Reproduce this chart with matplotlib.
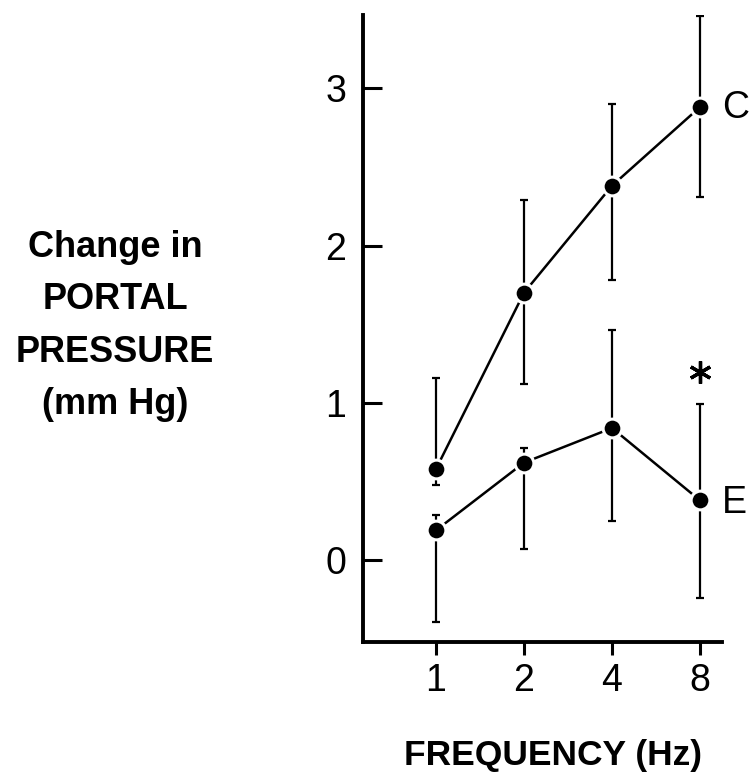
import matplotlib
matplotlib.use('Agg')
from matplotlib import pyplot as plt

# data
freq_labels = ['1', '2', '4', '8']
c_mean = [0.58, 1.70, 2.38, 2.88]
c_err_low = [0.10, 0.58, 0.60, 0.57]
c_err_high = [0.58, 0.59, 0.52, 0.58]
e_mean = [0.19, 0.62, 0.84, 0.38]
e_err_low = [0.58, 0.55, 0.59, 0.62]
e_err_high = [0.10, 0.09, 0.62, 0.61]
star_y = 1.195

plt.rcParams['font.family'] = ['Liberation Sans', 'DejaVu Sans']

fig = plt.figure(figsize=(7.49, 7.83), dpi=100)
ax = fig.add_axes([363 / 749, 1 - 642 / 783, (722 - 363) / 749, (642 - 15) / 783])

x = list(range(1, len(freq_labels) + 1))

for mean, lo, hi in [(c_mean, c_err_low, c_err_high), (e_mean, e_err_low, e_err_high)]:
    ax.errorbar(x, mean, yerr=[lo, hi], fmt='none', ecolor='black',
                elinewidth=1.6, capsize=3, capthick=1.6, zorder=2)
    ax.plot(x, mean, color='black', linewidth=1.8, marker='o', markersize=13.5,
            markerfacecolor='black', markeredgecolor='white', markeredgewidth=2.2,
            zorder=3)

# series labels and significance mark
ax.annotate('C', (x[-1], c_mean[-1]), xytext=(16, -1), textcoords='offset points',
            fontsize=27, va='center', ha='left', annotation_clip=False)
ax.annotate('E', (x[-1], e_mean[-1]), xytext=(16, -2), textcoords='offset points',
            fontsize=27, va='center', ha='left', annotation_clip=False)
ax.plot(x[-1], star_y, linestyle='none', marker=(6, 2, 0), markersize=16,
        markeredgewidth=2.4, color='black', clip_on=False)

ax.set_xlim(0.17, 4.25)
ax.set_ylim(-0.52, 3.465)
ax.set_xticks(x)
ax.set_xticklabels(freq_labels)
ax.set_yticks([0, 1, 2, 3])

for side in ['top', 'right']:
    ax.spines[side].set_visible(False)
for side in ['left', 'bottom']:
    ax.spines[side].set_linewidth(2.8)

ax.tick_params(axis='y', direction='in', length=14, width=2.2, labelsize=27, pad=12)
ax.tick_params(axis='x', direction='out', length=9, width=2.2, labelsize=27, pad=6)

fig.text(553 / 749, 1 - 755 / 783, 'FREQUENCY (Hz)', fontsize=25.5,
         fontweight='bold', ha='center', va='center')
fig.text(115 / 749, 1 - 326 / 783, 'Change in\nPORTAL\nPRESSURE\n(mm Hg)',
         fontsize=26, fontweight='bold', ha='center', va='center', linespacing=1.63)

fig.savefig('out.png', dpi=100, facecolor='white')
